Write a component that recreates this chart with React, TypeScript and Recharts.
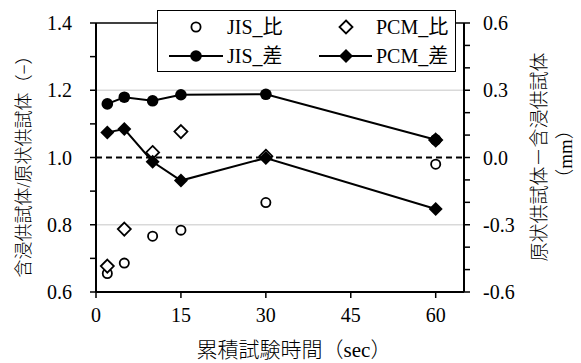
import {
  ComposedChart,
  Line,
  XAxis,
  YAxis,
  ReferenceLine,
  Label,
} from "recharts";

const times = [2, 5, 10, 15, 30, 60];
const jisRatio = [0.655, 0.686, 0.766, 0.784, 0.866, 0.98];
const pcmRatio = [0.677, 0.787, 1.015, 1.077, 1.004, 1.052];
const jisDiff = [0.239, 0.269, 0.253, 0.28, 0.282, 0.079];
const pcmDiff = [0.112, 0.127, -0.019, -0.103, -0.002, -0.23];

const xTicks = [0, 15, 30, 45, 60];
const leftTicks = [0.6, 0.7, 0.8, 0.9, 1.0, 1.1, 1.2, 1.3, 1.4];
const rightTicks = [-0.6, -0.5, -0.4, -0.3, -0.2, -0.1, 0, 0.1, 0.2, 0.3, 0.4, 0.5, 0.6];

const data = times.map((t, i) => ({
  t,
  jisRatio: jisRatio[i],
  pcmRatio: pcmRatio[i],
  jisDiff: jisDiff[i],
  pcmDiff: pcmDiff[i],
}));

const FONT = '"Times New Roman", "Liberation Serif", Tinos, "Noto Sans CJK JP", serif';

const openCircle = (p: any) => (
  <circle key={p.index} cx={p.cx} cy={p.cy} r={4.6} fill="#fff" stroke="#000" strokeWidth={1.8} />
);
const openDiamond = (p: any) => (
  <path
    key={p.index}
    d={`M${p.cx},${p.cy - 6.5}L${p.cx + 6.5},${p.cy}L${p.cx},${p.cy + 6.5}L${p.cx - 6.5},${p.cy}Z`}
    fill="#fff"
    stroke="#000"
    strokeWidth={1.8}
  />
);
const filledCircle = (p: any) => <circle key={p.index} cx={p.cx} cy={p.cy} r={5.8} fill="#000" />;
const filledDiamond = (p: any) => (
  <path
    key={p.index}
    d={`M${p.cx},${p.cy - 7}L${p.cx + 7},${p.cy}L${p.cx},${p.cy + 7}L${p.cx - 7},${p.cy}Z`}
    fill="#000"
  />
);

const tickStyle = { fontSize: 20, fill: "#000", style: { fontFamily: FONT } };
const titleStyle = { fontFamily: FONT, fontWeight: 300 };

function LegendBox() {
  return (
    <div
      style={{
        position: "absolute",
        left: 157,
        top: 10,
        width: 297,
        height: 60,
        border: "1.5px solid #000",
        background: "#fff",
      }}
    >
      <svg width={297} height={60} style={{ fontFamily: FONT, fontSize: 20 }}>
        <circle cx={38} cy={16} r={4.6} fill="#fff" stroke="#000" strokeWidth={1.8} />
        <text x={69} y={16} dominantBaseline="central">JIS_比</text>
        <path d="M188,9.5L194.5,16L188,22.5L181.5,16Z" fill="#fff" stroke="#000" strokeWidth={1.8} />
        <text x={218} y={16} dominantBaseline="central">PCM_比</text>
        <line x1={11} y1={45} x2={65} y2={45} stroke="#000" strokeWidth={2} />
        <circle cx={38} cy={45} r={5.8} fill="#000" />
        <text x={69} y={45} dominantBaseline="central">JIS_差</text>
        <line x1={161} y1={45} x2={214} y2={45} stroke="#000" strokeWidth={2} />
        <path d="M188,38L195,45L188,52L181,45Z" fill="#000" />
        <text x={218} y={45} dominantBaseline="central">PCM_差</text>
      </svg>
    </div>
  );
}

export default function App() {
  return (
    <div
      style={{
        position: "absolute",
        left: 0,
        top: 0,
        width: 581,
        height: 363,
        background: "#fff",
        fontFamily: FONT,
      }}
    >
      <ComposedChart
        width={581}
        height={363}
        data={data}
        margin={{ top: 23, right: 0, bottom: 0, left: 0 }}
        style={{ fontFamily: FONT }}
      >
        <XAxis
          dataKey="t"
          type="number"
          domain={[0, 65]}
          ticks={xTicks}
          height={71}
          tickSize={6}
          tickMargin={10}
          tick={tickStyle}
          axisLine={{ stroke: "#000", strokeWidth: 2 }}
          tickLine={{ stroke: "#000", strokeWidth: 1.5 }}
        >
          <Label
            content={() => (
              <text x={294} y={350} textAnchor="middle" dominantBaseline="central" fontSize={21} style={titleStyle}>
                累積試験時間（sec）
              </text>
            )}
          />
        </XAxis>
        <YAxis
          yAxisId="left"
          orientation="left"
          domain={[0.6, 1.4]}
          ticks={leftTicks}
          width={96}
          tickSize={6}
          tickMargin={18}
          tick={tickStyle}
          tickFormatter={(v: number) => (Math.round(v * 10) % 2 === 0 ? v.toFixed(1) : "")}
          axisLine={{ stroke: "#000", strokeWidth: 2 }}
          tickLine={{ stroke: "#000", strokeWidth: 1.5 }}
          interval={0}
        >
          <Label
            content={() => (
              <text
                x={24}
                y={162}
                transform="rotate(-90 24 162)"
                textAnchor="middle"
                dominantBaseline="central"
                fontSize={18}
                style={titleStyle}
              >
                含浸供試体/原状供試体（−）
              </text>
            )}
          />
        </YAxis>
        <YAxis
          yAxisId="right"
          orientation="right"
          domain={[-0.6, 0.6]}
          ticks={rightTicks}
          width={117}
          tickSize={6}
          tickMargin={13}
          tick={tickStyle}
          tickFormatter={(v: number) => (Math.round(v * 10) % 3 === 0 ? v.toFixed(1) : "")}
          axisLine={{ stroke: "#000", strokeWidth: 2 }}
          tickLine={{ stroke: "#000", strokeWidth: 1.5 }}
          interval={0}
        >
          <Label
            content={() => (
              <g fontSize={19} style={titleStyle}>
                <text x={539} y={157} transform="rotate(-90 539 157)" textAnchor="middle" dominantBaseline="central">
                  原状供試体－含浸供試体
                </text>
                <text x={565} y={154} transform="rotate(-90 565 154)" textAnchor="middle" dominantBaseline="central">
                  （mm）
                </text>
              </g>
            )}
          />
        </YAxis>
        <ReferenceLine yAxisId="left" y={0.8} stroke="#d9d9d9" strokeWidth={1.5} />
        <ReferenceLine yAxisId="left" y={1.2} stroke="#d9d9d9" strokeWidth={1.5} />
        <ReferenceLine yAxisId="left" y={1.0} stroke="#000" strokeWidth={1.8} strokeDasharray="6 4" />
        <ReferenceLine yAxisId="left" y={1.4} stroke="#000" strokeWidth={1.5} />
        <Line
          yAxisId="left"
          dataKey="jisRatio"
          stroke="none"
          dot={openCircle}
          activeDot={false}
          isAnimationActive={false}
        />
        <Line
          yAxisId="left"
          dataKey="pcmRatio"
          stroke="none"
          dot={openDiamond}
          activeDot={false}
          isAnimationActive={false}
        />
        <Line
          yAxisId="right"
          dataKey="jisDiff"
          stroke="#000"
          strokeWidth={2}
          dot={filledCircle}
          activeDot={false}
          isAnimationActive={false}
        />
        <Line
          yAxisId="right"
          dataKey="pcmDiff"
          stroke="#000"
          strokeWidth={2}
          dot={filledDiamond}
          activeDot={false}
          isAnimationActive={false}
        />
      </ComposedChart>
      <LegendBox />
    </div>
  );
}
